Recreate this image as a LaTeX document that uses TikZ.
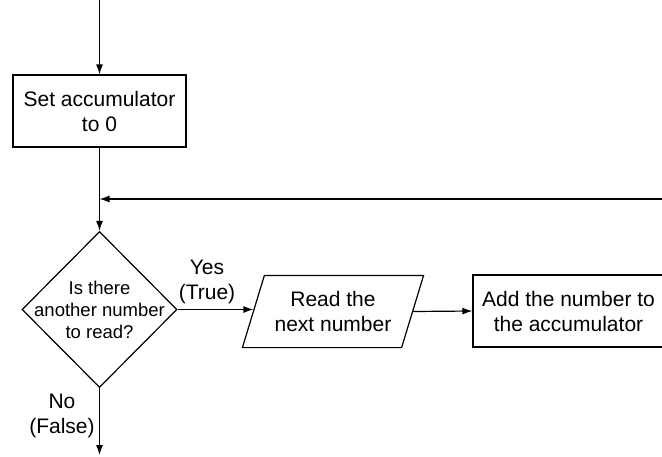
\documentclass[tikz,border=0pt]{standalone}
\usepackage{fontspec}
\setmainfont{Liberation Sans}
\usetikzlibrary{shapes.geometric,arrows.meta}
\begin{document}
\begin{tikzpicture}[x=1pt,y=-1pt, line width=1.2pt,
  procbox/.style={draw, rectangle, align=center, inner sep=0pt,
    font=\fontsize{21}{25}\selectfont},
  txt/.style={align=center, inner sep=0pt, font=\fontsize{21}{25}\selectfont},
  decbox/.style={draw, diamond, inner sep=0pt, minimum width=155pt, minimum height=156pt},
  dtxt/.style={align=center, inner sep=0pt, font=\fontsize{18.5}{22}\selectfont},
  arr/.style={-{Latex[length=10pt,width=7pt]}}]
\path[use as bounding box] (0,0) rectangle (662,456);
\clip (0,0) rectangle (662,456);
\coordinate (top) at (99.5,0);
\coordinate (bot) at (99.5,455);
\coordinate (fb) at (663,199);
\coordinate (join) at (99.5,199);
\node[procbox, minimum width=173pt, minimum height=72pt] (init) at (99.5,111) {Set accumulator\\to 0};
\node[decbox, label={[dtxt]center:{Is there\\another number\\to read?}}] (dec) at (99.5,309.5) {};
\node[txt, minimum width=158pt, minimum height=71pt] (read) at (333,311.5) {Read the\\next number};
\draw ([xshift=-11pt]read.south west) -- ([xshift=11pt]read.north west)
  -- ([xshift=11pt]read.north east) -- ([xshift=-11pt]read.south east) -- cycle;
\node[procbox, minimum width=191pt, minimum height=72pt] (add) at (568.5,311) {Add the number to\\the accumulator};
\node[txt] (yes) at (207,282) {Yes\\(True)};
\node[txt] (no) at (62,416) {No\\(False)};
\draw[arr] (top) -- (init.north);
\draw[arr] (init.south) -- (dec.north);
\draw[arr] (fb) -- (join);
\draw[arr] (dec.east) -- (read.west |- dec.east);
\draw[arr] (read.east) -- (add.west);
\draw[arr] (dec.south) -- (bot);
\end{tikzpicture}
\end{document}
